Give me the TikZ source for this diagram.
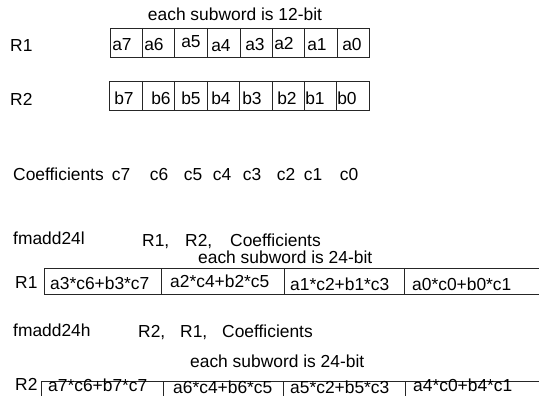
\documentclass[tikz,border=0pt]{standalone}
\usepackage{fontspec}
\setmainfont{Liberation Sans}
\begin{document}
\begin{tikzpicture}[x=1pt,y=-1pt,
  every node/.style={inner sep=0pt, font=\fontsize{17.4}{20}\selectfont},
  lbl/.style={anchor=base west},
  cc/.style={anchor=base},
  reg/.style={draw=black!85, line width=0.8pt}]
\useasboundingbox (0,0) rectangle (539,396);
\clip (0,0) rectangle (539,396);

% ---- 12-bit registers ----
\node[cc] (hdr12) at (235,21) {each subword is 12-bit};
\node[lbl] (lr1) at (10,52) {R1};
\node[reg, anchor=north west, minimum width=259pt, minimum height=29pt] (r1box) at (110,28) {};
\foreach \x in {142,174,207,240,272,304,337} \draw[reg] (\x,28) -- (\x,57);
\foreach \t/\x/\y [count=\i] in {a7/122/51,a6/154/51,a5/191/48,a4/221/52,a3/255/51,a2/284/50,a1/317/51,a0/352/51}
  \node[cc] (ra\i) at (\x,\y) {\t};

\node[lbl] (lr2) at (10,106) {R2};
\node[reg, anchor=north west, minimum width=260pt, minimum height=29pt] (r2box) at (109,81) {};
\foreach \x in {142,174,207,239,272,304,336} \draw[reg] (\x,81) -- (\x,110);
\foreach \t/\x in {b7/124,b6/161,b5/191,b4/221,b3/252,b2/287,b1/315,b0/347}
  \node[cc] (rb\t) at (\x,105) {\t};

% ---- coefficients ----
\node[lbl] (coef) at (13,181) {Coefficients};
\foreach \t/\x in {c7/121,c6/159,c5/193,c4/222,c3/252,c2/286,c1/313,c0/349}
  \node[cc] (cf\t) at (\x,181) {\t};

% ---- fmadd24l ----
\node[lbl] (fl) at (13,244) {fmadd24l};
\node[lbl] (flr1) at (142,246) {R1,};
\node[lbl] (flr2) at (185,246) {R2,};
\node[lbl] (flc) at (230,246) {Coefficients};
\node[lbl] (hdr24a) at (198,263) {each subword is 24-bit};
\node[lbl] (lr1b) at (15,288) {R1};
\draw[reg] (545,268) -- (44,268) -- (44,294) -- (545,294);
\foreach \x in {161,284,404} \draw[reg] (\x,268) -- (\x,294);
\node[lbl] (s13) at (50,289) {a3*c6+b3*c7};
\node[lbl] (s12) at (170,287) {a2*c4+b2*c5};
\node[lbl] (s11) at (290,290) {a1*c2+b1*c3};
\node[lbl] (s10) at (412,290) {a0*c0+b0*c1};

% ---- fmadd24h ----
\node[lbl] (fh) at (13,336) {fmadd24h};
\node[lbl] (fhr2) at (138,337) {R2,};
\node[lbl] (fhr1) at (180,337) {R1,};
\node[lbl] (fhc) at (222,337) {Coefficients};
\node[lbl] (hdr24b) at (190,367) {each subword is 24-bit};
\node[lbl] (lr2b) at (15,390) {R2};
\draw[reg] (545,381) -- (41,381) -- (41,402);
\foreach \x in {163,283,405} \draw[reg] (\x,381) -- (\x,402);
\node[lbl] (s27) at (48,391) {a7*c6+b7*c7};
\node[lbl] (s26) at (173,393) {a6*c4+b6*c5};
\node[lbl] (s25) at (290,393) {a5*c2+b5*c3};
\node[lbl] (s24) at (413,391) {a4*c0+b4*c1};
\end{tikzpicture}
\end{document}
